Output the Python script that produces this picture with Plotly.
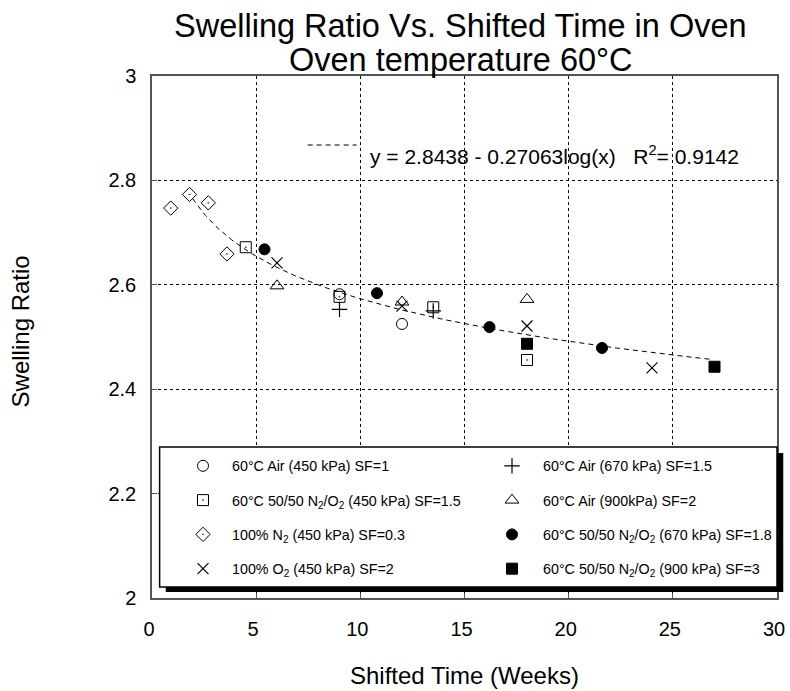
import numpy as np
import plotly.graph_objects as go

# ---------------- data (shifted time in weeks, swelling ratio) ----------------
air450_x = [9.0, 12.0]
air450_y = [2.582, 2.525]

air670_x = [9.0, 13.5]
air670_y = [2.553, 2.550]

mix450_x = [4.5, 9.0, 13.5, 18.0]
mix450_y = [2.672, 2.577, 2.557, 2.456]

air900_x = [6.0, 12.0, 18.0]
air900_y = [2.598, 2.567, 2.572]

n2_x = [0.9, 1.8, 2.7, 3.6]
n2_y = [2.747, 2.773, 2.757, 2.659]

mix670_x = [5.4, 10.8, 16.2, 21.6]
mix670_y = [2.668, 2.584, 2.519, 2.479]

o2_x = [6.0, 12.0, 18.0, 24.0]
o2_y = [2.642, 2.559, 2.521, 2.441]

mix900_x = [18.0, 27.0]
mix900_y = [2.487, 2.443]

# logarithmic trend line  y = a - b*log10(x)
fit_a = 2.8438
fit_b = 0.27063
fit_r2 = 0.9142
fit_x_start = 1.95
fit_x_end = 26.8

series_names = [
    "60°C Air (450 kPa) SF=1",
    "60°C 50/50 N<sub>2</sub>/O<sub>2</sub> (450 kPa) SF=1.5",
    "100% N<sub>2</sub> (450 kPa) SF=0.3",
    "100% O<sub>2</sub> (450 kPa) SF=2",
    "60°C Air (670 kPa) SF=1.5",
    "60°C Air (900kPa) SF=2",
    "60°C 50/50 N<sub>2</sub>/O<sub>2</sub> (670 kPa) SF=1.8",
    "60°C 50/50 N<sub>2</sub>/O<sub>2</sub> (900 kPa) SF=3",
]

x_ticks = [0, 5, 10, 15, 20, 25, 30]
y_ticks = [2, 2.2, 2.4, 2.6, 2.8, 3]

FONT = "Liberation Sans, Arial, Helvetica, sans-serif"
BLACK = "black"

fig = go.Figure()

# trend line (drawn from the equation shown on the chart)
fx = np.linspace(fit_x_start, fit_x_end, 200)
fy = fit_a - fit_b * np.log10(fx)
fig.add_trace(go.Scatter(x=fx, y=fy, mode="lines", showlegend=False,
                         line=dict(color=BLACK, width=1, dash="5px,4px"),
                         hoverinfo="skip"))


def add(x, y, name, symbol, size, legend, group, lw=1):
    marker = dict(symbol=symbol, size=size, color=BLACK,
                  line=dict(color=BLACK, width=lw))
    fig.add_trace(go.Scatter(x=x, y=y, mode="markers", name=name,
                             marker=marker, legend=legend,
                             legendgroup=group))


add(air450_x, air450_y, series_names[0], "circle-open", 11, "legend", "g1")
add(mix450_x, mix450_y, series_names[1], "square-open-dot", 11, "legend", "g2")
add(n2_x, n2_y, series_names[2], "diamond-open-dot", 11, "legend", "g3")
add(o2_x, o2_y, series_names[3], "x-thin-open", 11, "legend", "g4", lw=1.2)
add(air670_x, air670_y, series_names[4], "cross-thin-open", 11, "legend2", "g5", lw=1.2)
add(air900_x, air900_y, series_names[5], "triangle-up-open", 12, "legend2", "g6")
add(mix670_x, mix670_y, series_names[6], "circle", 11, "legend2", "g7")
add(mix900_x, mix900_y, series_names[7], "square", 11, "legend2", "g8")

axis_common = dict(showgrid=True, gridcolor=BLACK, griddash="dot", gridwidth=1,
                   showline=True, mirror=True, linecolor="#555", linewidth=1.5,
                   ticks="inside", ticklen=5, tickcolor="#555", automargin=False,
                   zeroline=False, tickfont=dict(size=20, color=BLACK))

fig.update_xaxes(range=[0, 30], tickvals=x_ticks, ticklabelstandoff=12,
                 ticklabelshift=-3, **axis_common)
fig.update_yaxes(range=[2, 3], tickvals=y_ticks, ticklabelstandoff=10, **axis_common)

leg_common = dict(yanchor="top", bgcolor="rgba(0,0,0,0)",
                  borderwidth=0, font=dict(size=14.3, color=BLACK, family=FONT),
                  tracegroupgap=12.7, orientation="v")

fig.update_layout(
    width=790, height=691,
    margin=dict(l=152, r=13, t=76, b=93, pad=0),
    paper_bgcolor="white", plot_bgcolor="white",
    font=dict(family=FONT, color=BLACK),
    legend=dict(x=0.0352, y=0.2835, xanchor="left", itemwidth=48, **leg_common),
    legend2=dict(x=1.0, y=0.2835, xanchor="right", itemwidth=52, **leg_common),
    shapes=[
        # legend shadow
        dict(type="rect", xref="paper", yref="paper", layer="above",
             x0=0.022, x1=1.010, y0=0.0115, y1=0.278,
             fillcolor=BLACK, line=dict(width=0)),
        # legend box
        dict(type="rect", xref="paper", yref="paper", layer="above",
             x0=0.0122, x1=1.0, y0=0.021, y1=0.2893,
             fillcolor="white", line=dict(color=BLACK, width=1.5)),
        # dashed sample for the trend-line equation
        dict(type="line", xref="paper", yref="paper", layer="above",
             x0=0.249, x1=0.3274, y0=0.8678, y1=0.8678,
             line=dict(color=BLACK, width=1, dash="5px,4px")),
    ],
    annotations=[
        dict(text="Swelling Ratio Vs. Shifted Time in Oven", xref="paper", yref="paper",
             x=0.4936, y=1.0952, xanchor="center", yanchor="middle", showarrow=False,
             font=dict(size=32.5, family=FONT, color=BLACK)),
        dict(text="Oven temperature 60°C", xref="paper", yref="paper",
             x=0.4936, y=1.031, xanchor="center", yanchor="middle", showarrow=False,
             font=dict(size=32.5, family=FONT, color=BLACK)),
        dict(text=f"y = {fit_a} - {fit_b}log(x)   R<sup>2</sup>= {fit_r2}",
             xref="paper", yref="paper", x=0.345, y=0.8483,
             xanchor="left", yanchor="middle", showarrow=False,
             font=dict(size=21, family=FONT, color=BLACK)),
        dict(text="Shifted Time (Weeks)", xref="paper", yref="paper",
             x=0.5, y=-0.1494, xanchor="center", yanchor="middle", showarrow=False,
             font=dict(size=24, family=FONT, color=BLACK)),
        dict(text="Swelling Ratio", xref="paper", yref="paper", textangle=-90,
             x=-0.2102, y=0.51, xanchor="center", yanchor="middle", showarrow=False,
             font=dict(size=24, family=FONT, color=BLACK)),
    ],
)

# remove the default 8px page margin so the 790x691 figure fills the window
fig.write_html("out.html",
               config={"displayModeBar": False},
               post_script="document.body.style.margin='0';"
                           "document.body.style.overflow='hidden';")
